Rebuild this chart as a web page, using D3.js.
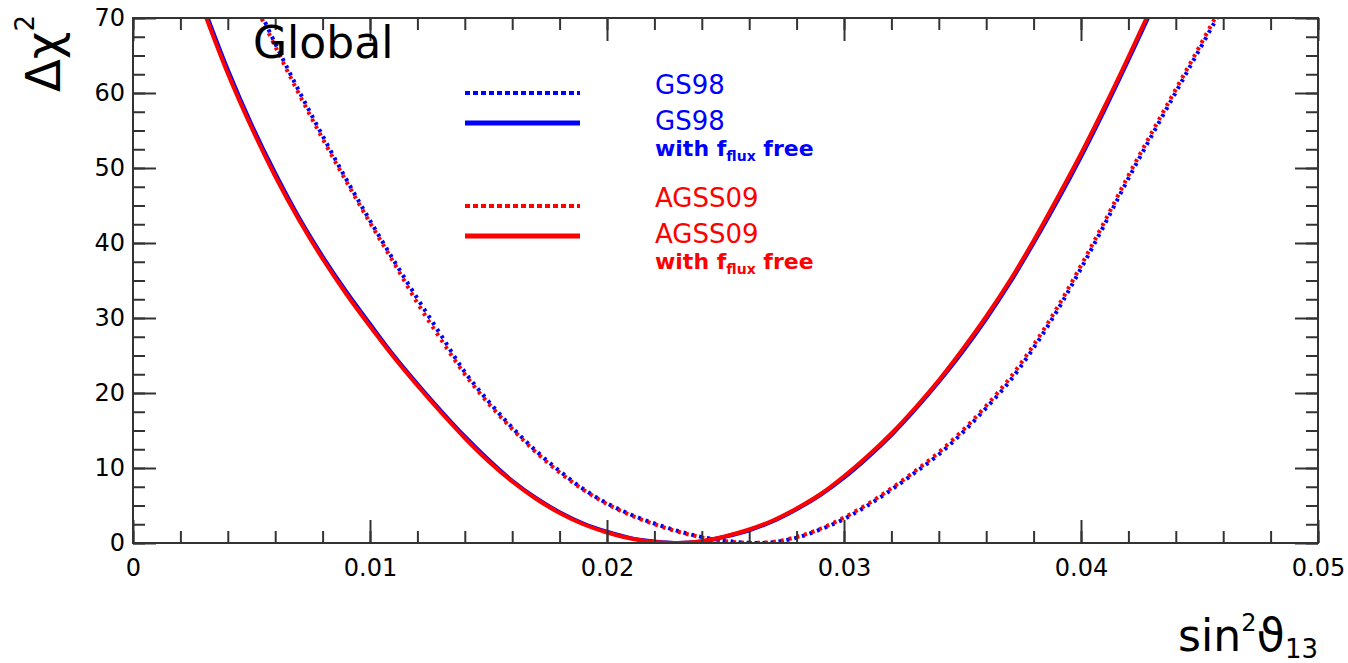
<!DOCTYPE html>
<html>
<head>
<meta charset="utf-8">
<script src="https://cdn.jsdelivr.net/npm/d3@7"></script>
<style>
  body { margin: 0; background: #ffffff; }
  text { font-family: "DejaVu Sans", sans-serif; }
</style>
</head>
<body>
<div id="chart"></div>
<script>

//==============================================================================
//
//                                    DATA
//
//==============================================================================

// sin^2(theta13) grid of the two "f_flux free" fits (solid curves)
var solidX = [0.003, 0.004, 0.005, 0.006, 0.007, 0.008, 0.009, 0.010, 0.011,
              0.012, 0.013, 0.014, 0.015, 0.016, 0.017, 0.018, 0.019, 0.020,
              0.021, 0.022, 0.023, 0.024, 0.025, 0.026, 0.027, 0.028, 0.029,
              0.030, 0.031, 0.032, 0.033, 0.034, 0.035, 0.036, 0.037, 0.038,
              0.039, 0.040, 0.041, 0.042, 0.043];

var gs98Free   = [71.3, 63.1, 55.8, 49.3, 43.4, 38.2, 33.5, 29.2, 25.0, 21.2,
                  17.6, 14.2, 11.1, 8.3, 6.0, 4.1, 2.6, 1.5, 0.65, 0.2, 0.0,
                  0.2, 0.85, 1.7, 2.9, 4.5, 6.4, 8.7, 11.4, 14.4, 17.8, 21.5,
                  25.5, 29.9, 34.7, 40.0, 45.6, 51.5, 57.8, 64.4, 71.2];

var agss09Free = [70.8, 62.6, 55.4, 48.9, 43.1, 37.9, 33.2, 28.9, 24.8, 21.0,
                  17.4, 14.0, 10.9, 8.2, 5.9, 4.0, 2.5, 1.4, 0.6, 0.15, 0.0,
                  0.25, 0.9, 1.8, 3.0, 4.6, 6.5, 8.9, 11.6, 14.6, 18.0, 21.7,
                  25.8, 30.2, 35.0, 40.3, 46.0, 51.9, 58.2, 64.8, 71.6];

// sin^2(theta13) grid of the fixed-flux fits (dotted curves)
var dottedX = [0.005, 0.006, 0.007, 0.008, 0.009, 0.010, 0.011, 0.012, 0.013,
               0.014, 0.015, 0.016, 0.017, 0.018, 0.019, 0.020, 0.021, 0.022,
               0.023, 0.024, 0.025, 0.026, 0.027, 0.028, 0.029, 0.030, 0.031,
               0.032, 0.033, 0.034, 0.035, 0.036, 0.037, 0.038, 0.039, 0.040,
               0.041, 0.042, 0.043, 0.044, 0.045, 0.046];

var gs98   = [73.3, 66.6, 60.3, 54.3, 48.5, 43.0, 37.7, 32.6, 27.7, 22.8,
              18.9, 15.4, 12.3, 9.6, 7.2, 5.3, 3.8, 2.6, 1.6, 0.8, 0.3,
              0.03, 0.1, 0.7, 1.8, 3.2, 5.0, 7.1, 9.4, 11.8, 14.7, 18.0,
              21.6, 26.0, 31.0, 36.6, 42.5, 48.6, 54.4, 60.1, 65.8, 71.5];

var agss09 = [72.8, 66.2, 59.9, 53.9, 48.2, 42.7, 37.4, 32.0, 27.1, 22.5,
              18.6, 15.2, 12.1, 9.4, 7.1, 5.2, 3.7, 2.5, 1.5, 0.75, 0.25,
              0.02, 0.15, 0.8, 1.9, 3.4, 5.2, 7.3, 9.6, 12.1, 15.0, 18.3,
              22.0, 26.4, 31.4, 37.0, 42.9, 49.0, 54.8, 60.5, 66.2, 72.0];

// axes
var xTicks      = [0, 0.01, 0.02, 0.03, 0.04, 0.05];
var xTickLabels = ["0", "0.01", "0.02", "0.03", "0.04", "0.05"];
var yTicks      = [0, 10, 20, 30, 40, 50, 60, 70];

// legend
var legendNames = ["GS98", "GS98", "AGSS09", "AGSS09"];
var legendFree  = [false, true, false, true];

//==============================================================================
//
//                            MARGINS AND SCALES
//
//==============================================================================

var W = 1348, H = 663,
    plot = { left: 133, right: 1318, top: 18, bottom: 543 },
    majorLen = 23, minorLen = 12,
    blue = "#0000ff", red = "#ff0000", frameColor = "#333333";

var x = d3.scaleLinear().domain([0, 0.05]).range([plot.left, plot.right]);
var y = d3.scaleLinear().domain([0, 70]).range([plot.bottom, plot.top]);

var xMinor = d3.range(0, 26).map(function(i) { return i * 0.002; });
var yMinor = d3.range(0, 29).map(function(i) { return i * 2.5; });

//==============================================================================
//
//                               SVG ELEMENTS
//
//==============================================================================

var svg = d3.select("#chart").append("svg")
            .attr("width", W)
            .attr("height", H);

svg.append("defs").append("clipPath").attr("id", "clip")
   .append("rect")
   .attr("x", plot.left).attr("y", plot.top)
   .attr("width", plot.right - plot.left)
   .attr("height", plot.bottom - plot.top);

// curves: dotted first, then solid; blue under red
var line = d3.line().curve(d3.curveCatmullRom.alpha(0.5));

var curves = [
  { xs: dottedX, ys: gs98,       color: blue, dash: "3,5" },
  { xs: dottedX, ys: agss09,     color: red,  dash: "3,5" },
  { xs: solidX,  ys: gs98Free,   color: blue, dash: null },
  { xs: solidX,  ys: agss09Free, color: red,  dash: null }
];

var curveG = svg.append("g").attr("clip-path", "url(#clip)");
curves.forEach(function(c) {
  var pts = c.xs.map(function(v, i) { return [x(v), y(c.ys[i])]; });
  curveG.append("path")
        .attr("d", line(pts))
        .attr("fill", "none")
        .attr("stroke", c.color)
        .attr("stroke-width", 4)
        .attr("stroke-dasharray", c.dash);
});

// axes (ticks point inward on all four sides)
function styleAxis(g) {
  g.select(".domain").remove();
  g.selectAll("line").attr("stroke", frameColor).attr("stroke-width", 2);
  g.selectAll("text")
   .attr("font-family", "DejaVu Sans, sans-serif")
   .attr("font-size", 24)
   .attr("fill", "#000");
}

svg.append("g").attr("transform", "translate(0," + plot.bottom + ")")
   .call(d3.axisBottom(x).tickValues(xMinor).tickSize(-minorLen)
           .tickSizeOuter(0).tickFormat(""))
   .call(styleAxis);
svg.append("g").attr("transform", "translate(0," + plot.bottom + ")")
   .call(d3.axisBottom(x).tickValues(xTicks).tickSize(-majorLen)
           .tickSizeOuter(0).tickPadding(16)
           .tickFormat(function(d, i) { return xTickLabels[i]; }))
   .call(styleAxis);
svg.append("g").attr("transform", "translate(0," + plot.top + ")")
   .call(d3.axisTop(x).tickValues(xMinor).tickSize(-minorLen)
           .tickSizeOuter(0).tickFormat(""))
   .call(styleAxis);
svg.append("g").attr("transform", "translate(0," + plot.top + ")")
   .call(d3.axisTop(x).tickValues(xTicks).tickSize(-majorLen)
           .tickSizeOuter(0).tickFormat(""))
   .call(styleAxis);

svg.append("g").attr("transform", "translate(" + plot.left + ",0)")
   .call(d3.axisLeft(y).tickValues(yMinor).tickSize(-minorLen)
           .tickSizeOuter(0).tickFormat(""))
   .call(styleAxis);
svg.append("g").attr("transform", "translate(" + plot.left + ",0)")
   .call(d3.axisLeft(y).tickValues(yTicks).tickSize(-majorLen)
           .tickSizeOuter(0).tickPadding(8).tickFormat(d3.format("d")))
   .call(styleAxis);
svg.append("g").attr("transform", "translate(" + plot.right + ",0)")
   .call(d3.axisRight(y).tickValues(yMinor).tickSize(-minorLen)
           .tickSizeOuter(0).tickFormat(""))
   .call(styleAxis);
svg.append("g").attr("transform", "translate(" + plot.right + ",0)")
   .call(d3.axisRight(y).tickValues(yTicks).tickSize(-majorLen)
           .tickSizeOuter(0).tickFormat(""))
   .call(styleAxis);

// frame
svg.append("rect")
   .attr("x", plot.left).attr("y", plot.top)
   .attr("width", plot.right - plot.left)
   .attr("height", plot.bottom - plot.top)
   .attr("fill", "none")
   .attr("stroke", frameColor)
   .attr("stroke-width", 2);

// "Global" label
svg.append("text")
   .attr("x", 253).attr("y", 58)
   .attr("font-family", "Liberation Sans, Arial, sans-serif")
   .attr("font-size", 44)
   .text("Global");

// legend
var legendLineY = [93, 123, 206, 236],
    legendTextY = [94, 130, 207, 243];

legendNames.forEach(function(name, i) {
  var color = i < 2 ? blue : red;
  svg.append("line")
     .attr("x1", 465).attr("x2", 580)
     .attr("y1", legendLineY[i]).attr("y2", legendLineY[i])
     .attr("stroke", color)
     .attr("stroke-width", legendFree[i] ? 5 : 4)
     .attr("stroke-dasharray", legendFree[i] ? null : "5,3");
  svg.append("text")
     .attr("x", 655).attr("y", legendTextY[i])
     .attr("font-size", 26)
     .attr("fill", color)
     .text(name);
  if (legendFree[i]) {
    var t = svg.append("text")
               .attr("x", 655).attr("y", legendTextY[i] + 26)
               .attr("font-size", 22)
               .attr("font-weight", "bold")
               .attr("fill", color);
    t.append("tspan").text("with f");
    t.append("tspan").attr("font-size", 14).attr("dy", 5).text("flux");
    t.append("tspan").attr("dy", -5).text(" free");
  }
});

// axis titles
var xt = svg.append("text")
            .attr("x", plot.right).attr("y", 651)
            .attr("text-anchor", "end")
            .attr("font-size", 44);
xt.append("tspan").text("sin");
xt.append("tspan").attr("font-size", 24).attr("dy", -20).text("2");
xt.append("tspan").attr("font-size", 46).attr("dy", 20).text("\u03d1");
xt.append("tspan").attr("font-size", 26).attr("dy", 7).text("13");

var yt = svg.append("text")
            .attr("transform", "translate(60,92) rotate(-90)")
            .attr("font-size", 48);
yt.append("tspan").text("\u0394\u03c7");
yt.append("tspan").attr("font-size", 26).attr("dy", -26).text("2");

</script>
</body>
</html>
